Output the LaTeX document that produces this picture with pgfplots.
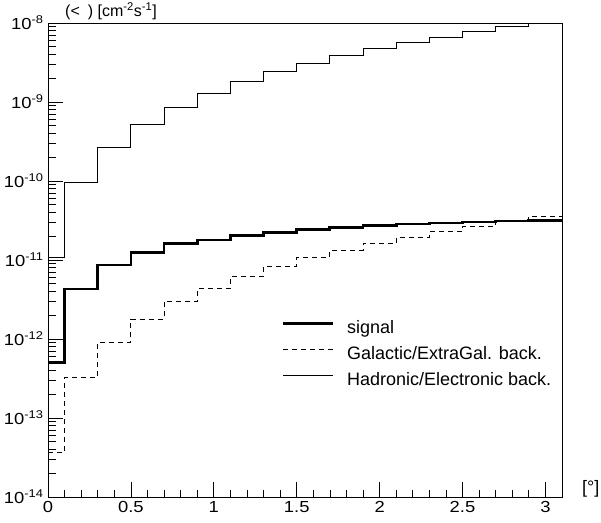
\documentclass[border=0pt]{standalone}
\usepackage{fontspec}
\setmainfont{Liberation Sans}
\newfontfamily\tickfont{Liberation Sans}[FakeStretch=1.15]
\usepackage{pgfplots}
\usepackage{pgfplotstable}
\pgfplotsset{compat=1.18}

% Cumulative flux histograms, bins: 0-0.1, then 0.2 wide up to 3.1
\pgfplotstableread{
x y
0.0 5.07e-13
0.1 4.30e-12
0.3 8.64e-12
0.5 1.24e-11
0.7 1.60e-11
0.9 1.79e-11
1.1 2.06e-11
1.3 2.24e-11
1.5 2.45e-11
1.7 2.60e-11
1.9 2.72e-11
2.1 2.86e-11
2.3 2.94e-11
2.5 3.03e-11
2.7 3.12e-11
2.9 3.18e-11
3.1 3.18e-11
}\signal

\pgfplotstableread{
x y
0.0 3.68e-14
0.1 3.27e-13
0.3 9.17e-13
0.5 1.79e-12
0.7 2.97e-12
0.9 4.38e-12
1.1 6.15e-12
1.3 8.30e-12
1.5 1.07e-11
1.7 1.32e-11
1.9 1.63e-11
2.1 1.95e-11
2.3 2.28e-11
2.5 2.67e-11
2.7 3.10e-11
2.9 3.57e-11
3.1 3.57e-11
}\galactic

\pgfplotstableread{
x y
0.0 1.07e-11
0.1 9.64e-11
0.3 2.69e-10
0.5 5.25e-10
0.7 8.60e-10
0.9 1.29e-9
1.1 1.83e-9
1.3 2.42e-9
1.5 3.12e-9
1.7 3.90e-9
1.9 4.73e-9
2.1 5.69e-9
2.3 6.65e-9
2.5 7.76e-9
2.7 8.97e-9
2.9 1.03e-8
3.1 1.03e-8
}\hadronic

\begin{document}
\begin{tikzpicture}
\begin{axis}[
  name=ax,
  scale only axis,
  width=514pt, height=474pt,
  ymode=log, log basis y=10,
  xmin=0, xmax=3.1,
  ymin=1e-14, ymax=1e-8,
  xtick={0,0.5,1,1.5,2,2.5,3},
  minor x tick num=4,
  ytickten={-14,...,-8},
  minor ytick={
    2e-14,3e-14,4e-14,5e-14,6e-14,7e-14,8e-14,9e-14,
    2e-13,3e-13,4e-13,5e-13,6e-13,7e-13,8e-13,9e-13,
    2e-12,3e-12,4e-12,5e-12,6e-12,7e-12,8e-12,9e-12,
    2e-11,3e-11,4e-11,5e-11,6e-11,7e-11,8e-11,9e-11,
    2e-10,3e-10,4e-10,5e-10,6e-10,7e-10,8e-10,9e-10,
    2e-9,3e-9,4e-9,5e-9,6e-9,7e-9,8e-9,9e-9},
  yticklabel={10\textsuperscript{\pgfmathparse{int(round(\tick))}\pgfmathresult}},
  xtick pos=bottom, ytick pos=left,
  tick align=inside,
  major tick length=15pt,
  minor tick length=7.5pt,
  tick style={black, line width=0.7pt},
  axis line style={line width=0.9pt},
  ticklabel style={font=\tickfont\fontsize{16}{19}\selectfont},
  /pgf/number format/assume math mode=true,
  xticklabel style={yshift=-1pt},
  yticklabel style={xshift=-1pt},
  legend image code/.code={\draw[#1] (0pt,5.5pt) -- (50pt,5.5pt);},
  legend cell align=left,
  reverse legend,
  legend style={
    draw=none, fill=none,
    at={(0.454,0.373)}, anchor=north west,
    inner sep=0pt, outer sep=0pt,
    row sep=9pt, column sep=0pt,
    font=\fontsize{18}{21}\selectfont,
    nodes={inner sep=0pt, outer sep=0pt, text depth=4pt, text height=13pt},
    /tikz/every odd column/.append style={column sep=13pt},
  },
]
\addplot[const plot, black, line width=0.9pt] table {\hadronic};
\addlegendentry{Hadronic/Electronic back.}
\addplot[const plot, black, line width=0.9pt, dash pattern=on 5pt off 4pt] table {\galactic};
\addlegendentry{Galactic/ExtraGal. back.}
\addplot[const plot, black, line width=2.8pt] table {\signal};
\addlegendentry{signal}
\end{axis}
\node[anchor=base west, font=\fontsize{16}{19}\selectfont, inner sep=0pt]
  at ([xshift=17pt, yshift=6pt]ax.north west)
  {(<\hspace{0.5em}) [cm\textsuperscript{-2}s\textsuperscript{-1}]};
\node[anchor=base west, font=\fontsize{18}{21}\selectfont, inner sep=0pt]
  at ([xshift=20pt, yshift=4pt]ax.south east) {[°]};
\pgfresetboundingbox
\path ([xshift=-48pt, yshift=-25pt]ax.south west) rectangle ([xshift=39pt, yshift=23pt]ax.north east);
\end{tikzpicture}
\end{document}
